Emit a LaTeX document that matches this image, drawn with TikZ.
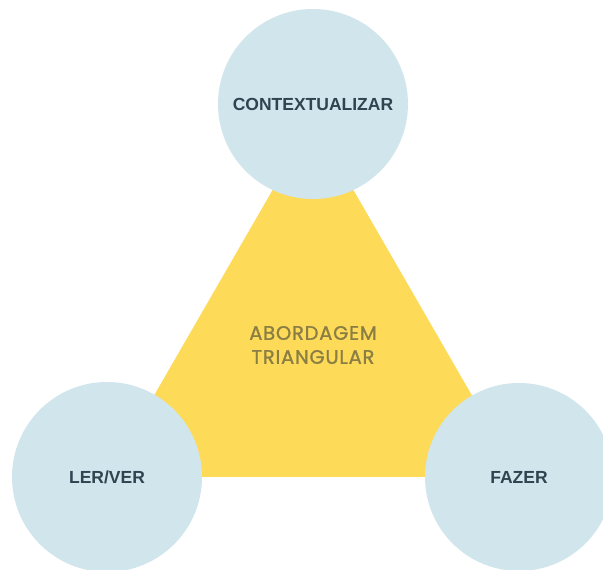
\documentclass[tikz,border=0pt]{standalone}
\usepackage{fontspec}
\setmainfont{Liberation Sans}
\newfontfamily\titlefont[LetterSpace=4,FakeBold=1.2]{Poppins}
\definecolor{circblue}{HTML}{D1E6EC}
\definecolor{triyellow}{HTML}{FDDA58}
\definecolor{labeltext}{HTML}{2F4450}
\definecolor{titletext}{HTML}{8A7E45}
\tikzset{
  bubble/.style={circle, fill=circblue, minimum size=190pt, inner sep=0pt,
    font=\fontsize{17.5}{20}\selectfont\bfseries, text=labeltext},
  titlelabel/.style={align=center, font=\titlefont\fontsize{19.5}{24}\selectfont, text=titletext}
}
\begin{document}
\begin{tikzpicture}[x=1pt,y=1pt]
\useasboundingbox (0,0) rectangle (603,570);
\fill[white] (0,0) rectangle (603,570);
\coordinate (tl) at (107,93);
\coordinate (tr) at (519,93);
\coordinate (tt) at (313,450);
\fill[triyellow] (tl) -- (tr) -- (tt) -- cycle;
\node[titlelabel] (title) at (313,225) {ABORDAGEM\\TRIANGULAR};
\node[bubble] (ctx) at (313,466) {CONTEXTUALIZAR};
\node[bubble] (ler) at (107,93) {LER/VER};
\node[bubble, minimum size=188pt] (faz) at (519,93) {FAZER};
\end{tikzpicture}
\end{document}
